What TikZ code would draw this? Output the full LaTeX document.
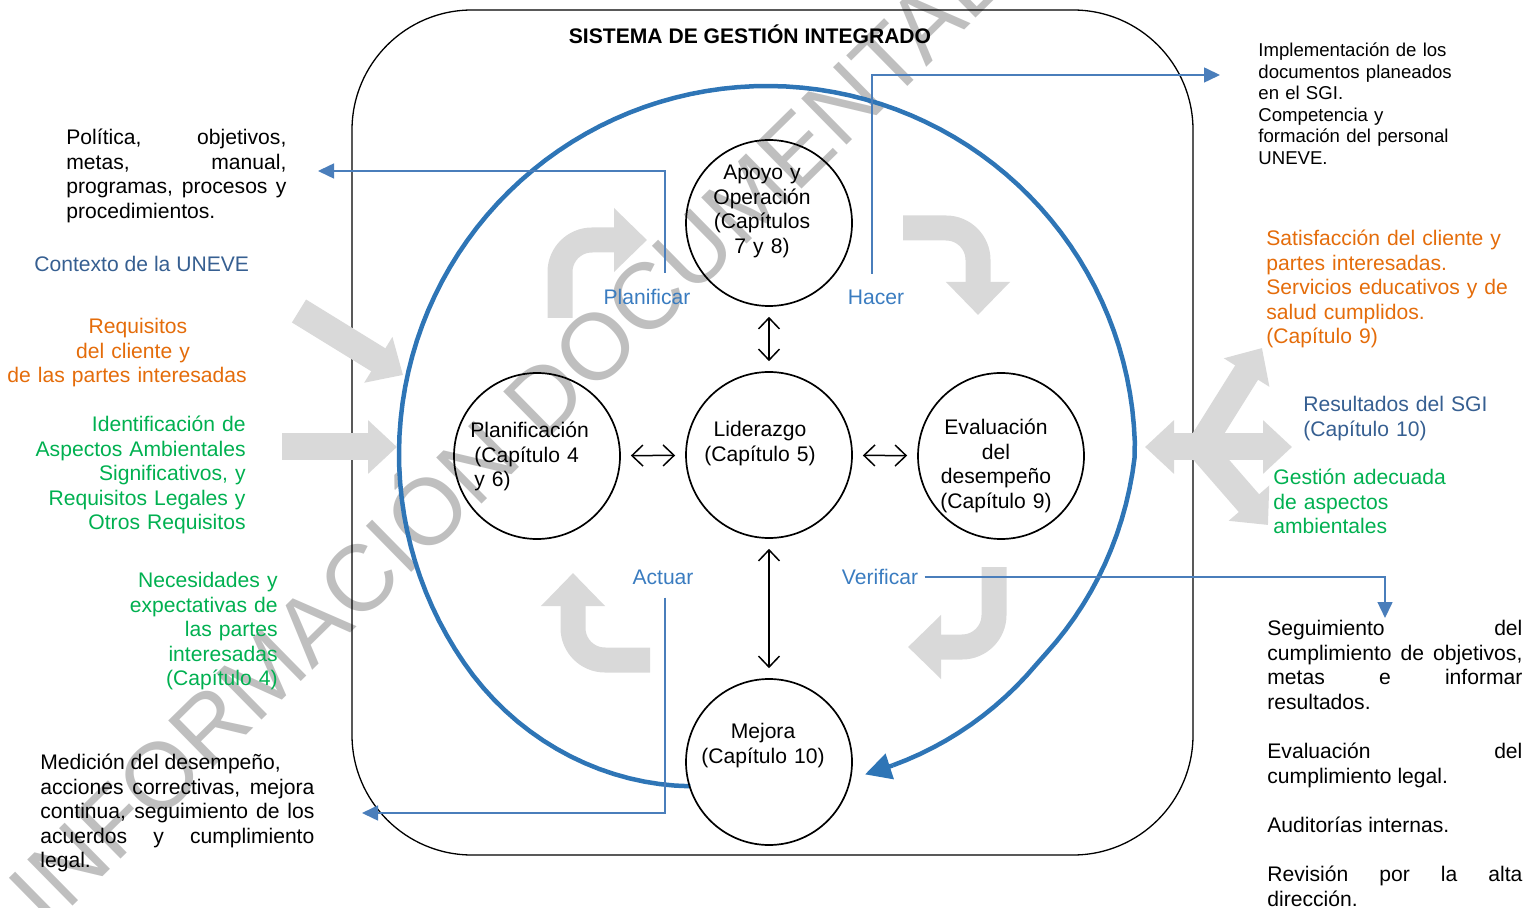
\documentclass[tikz,border=0pt]{standalone}
\usepackage{fontspec}
\setmainfont{Liberation Sans}
\usetikzlibrary{arrows.meta}

\definecolor{sgiazul}{RGB}{46,117,182}
\definecolor{enlace}{RGB}{74,126,187}
\definecolor{fase}{RGB}{58,124,192}
\definecolor{contexto}{RGB}{54,95,145}
\definecolor{naranja}{RGB}{228,108,10}
\definecolor{verde}{RGB}{0,176,80}
\definecolor{sombra}{RGB}{217,217,217}

\hyphenpenalty=10000
\exhyphenpenalty=10000
\tolerance=10000
\hbadness=10000

\tikzset{
  every node/.style={inner sep=0pt, font=\fontsize{10.55}{12.3}\selectfont},
  anillo/.style={circle, draw, line width=0.85pt, minimum size=83pt},
  dentro/.style={text width=80pt, align=center, anchor=base},
  etiqueta/.style={text=fase, anchor=base},
  enlace/.style={draw=enlace, line width=0.75pt, -{Triangle[length=8pt,width=7.5pt]}},
  doble/.style={line width=0.75pt, {Straight Barb[length=5.5pt,width=10.5pt]}-{Straight Barb[length=5.5pt,width=10.5pt]}, shorten <=5pt, shorten >=5pt},
  giro/.style={draw=sombra, line width=12.5pt, rounded corners=16pt, -{Triangle[length=16.5pt,width=31pt]}},
  entrada/.style={draw=sombra, line width=13.5pt, -{Triangle[length=14.5pt,width=26pt]}},
  bloque/.style={anchor=base west, text width=#1, align=justify},
  marca/.style={text=black!25, font=\fontsize{47}{47}\selectfont},
  ciclo/.style={draw=sgiazul, line width=2.25pt},
}
% radio del ciclo segun el angulo
\pgfmathdeclarefunction{radio}{1}{%
  \pgfmathparse{368-(#1<145)*(145-#1)*(145-#1)*0.0153-(#1>360)*min(#1-360,37)*0.703-(#1>397)*(#1-397)*0.2}%
}

\begin{document}
\begin{tikzpicture}[x=0.5pt, y=-0.5pt]
\useasboundingbox (0,0) rectangle (1540,908);

% marca de agua
\node[marca, rotate=44.5] (marca) at (500,430) {INFORMACIÓN DOCUMENTAL};

% marco del sistema
\draw[line width=0.65pt, rounded corners=60pt] (352,10) rectangle (1193,855);
\node[anchor=base, font=\fontsize{10.55}{12.3}\selectfont\bfseries] (titulo) at (750,43.5) {SISTEMA DE GESTIÓN INTEGRADO};

% ciclo PHVA
\draw[ciclo] plot[domain=103:428, samples=131, variable=\t] ({767+radio(\t)*cos(\t)}, {454+radio(\t)*sin(\t)});
\coordinate (ciclo-a) at (892.8,765.4);
\coordinate (ciclo-b) at (865,774.4);
\draw[ciclo, -{Triangle[length=13pt,width=13pt]}] (ciclo-a) -- (ciclo-b);

% flechas grises
\draw[giro] (560,318) -- (560,240) -- (647,240);
\draw[giro] (903,228) -- (978,228) -- (978,315);
\draw[giro] (994,567) -- (994,647) -- (908,647);
\draw[giro] (650,660) -- (573,660) -- (573,573);

\draw[entrada] (299,311) -- (403,375);
\draw[entrada] (282,447) -- (397,447);
\draw[entrada, {Triangle[length=14.5pt,width=26pt]}-{Triangle[length=14.5pt,width=26pt]}] (1145,447) -- (1292,447);
\draw[entrada] (1200,447) -- (1262,348);
\draw[entrada] (1200,447) -- (1268,525);

% circulos
\node[anillo] (apoyo) at (769,223) {};
\node[anillo] (lider) at (769,455) {};
\node[anillo] (plan) at (537,456) {};
\node[anillo] (evalua) at (1001,456) {};
\node[anillo] (mejora) at (769,762) {};

\node[dentro] (apoyo-t) at (762,179.5) {Apoyo y\\Operación\\(Capítulos\\7 y 8)};
\node[dentro] (lider-t) at (760,436.5) {Liderazgo\\(Capítulo 5)};
\node[anchor=base west, text width=80pt, align=left] (plan-t) at (470,437.5) {Planificación\\\hspace*{2pt}(Capítulo 4\\\hspace*{2pt}y 6)};
\node[dentro] (evalua-t) at (996,434.5) {Evaluación\\del\\desempeño\\(Capítulo 9)};
\node[dentro] (mejora-t) at (763,738.5) {Mejora\\(Capítulo 10)};

\draw[doble] (apoyo) -- (lider);
\draw[doble] (plan) -- (lider);
\draw[doble] (lider) -- (evalua);
\draw[doble] (lider) -- (mejora);

% etapas
\node[etiqueta] (planificar) at (647,304.5) {Planificar};
\node[etiqueta] (hacer) at (876,304.5) {Hacer};
\node[etiqueta] (actuar) at (663,584.5) {Actuar};
\node[etiqueta] (verificar) at (880,584.5) {Verificar};

\coordinate (fin-plan) at (318,171);
\coordinate (fin-hacer) at (1220,75);
\coordinate (fin-actuar) at (362,813);
\coordinate (fin-verif) at (1385,618);

\draw[enlace] ([xshift=9pt,yshift=8pt]planificar.north) |- (fin-plan);
\draw[enlace] ([xshift=-2pt,yshift=8pt]hacer.north) |- (fin-hacer);
\draw[enlace] ([xshift=1pt,yshift=-6.25pt]actuar.south) |- (fin-actuar);
\draw[enlace] ([xshift=3pt]verificar.east) -| (fin-verif);

% entradas
\node[bloque=110pt] (politica) at (66,144.5) {Política, objetivos,\linebreak metas, manual,\linebreak programas, procesos y\linebreak procedimientos.};
\node[anchor=base west, text=contexto] (contexto) at (34,272) {Contexto de la UNEVE};
\node[anchor=base, text width=125pt, align=center, text=naranja] (requisitos) at (127,333.5) {\hspace*{11pt}Requisitos\\\hspace*{6pt}del cliente y\\de las partes interesadas};
\node[anchor=base east, text width=125pt, align=right, text=verde] (aspectos) at (246,431.5) {Identificación de\\Aspectos Ambientales\\Significativos, y\\Requisitos Legales y\\Otros Requisitos};
\node[anchor=base east, text width=80pt, align=right, text=verde] (necesidades) at (278,587.5) {Necesidades y\\expectativas de\\las partes\\interesadas\\(Capítulo 4)};
\node[bloque=137pt] (medicion) at (40,769.5) {Medición del desempeño,\\acciones correctivas, mejora\linebreak continua, seguimiento de los\linebreak acuerdos y cumplimiento\linebreak legal.};

% salidas
\node[anchor=base west, text width=110pt, align=left, font=\fontsize{9.3}{10.8}\selectfont] (implementa) at (1258,56.5) {Implementación de los\\documentos planeados\\en el SGI.\\Competencia y\\formación del personal\\UNEVE.};
\node[anchor=base west, text width=130pt, align=left, text=naranja] (satisfaccion) at (1266,245.5) {Satisfacción del cliente y\\partes interesadas.\\Servicios educativos y de\\salud cumplidos.\\(Capítulo 9)};
\node[anchor=base west, text width=100pt, align=left, text=contexto] (resultados) at (1303,411.5) {Resultados del SGI\\(Capítulo 10)};
\node[anchor=base west, text width=100pt, align=left, text=verde] (gestion) at (1273,484.5) {Gestión adecuada\\de aspectos\\ambientales};
\node[bloque=127.5pt] (seguimiento) at (1267,635.5) {Seguimiento del\linebreak cumplimiento de objetivos,\linebreak metas e informar\linebreak resultados.\par\vspace{12.3pt}Evaluación del\linebreak cumplimiento legal.\par\vspace{12.3pt}Auditorías internas.\par\vspace{12.3pt}Revisión por la alta\linebreak dirección.};
\end{tikzpicture}
\end{document}
